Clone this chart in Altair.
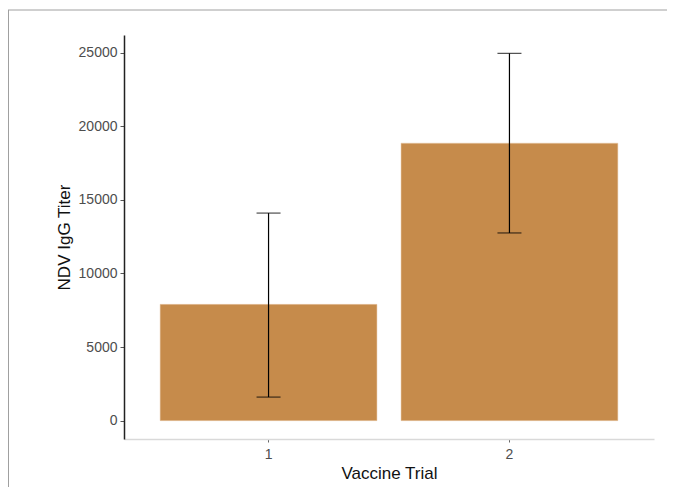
import altair as alt
import pandas as pd

trials = ["1", "2"]
mean_titer = [7900, 18850]
err_low = [1600, 12750]
err_high = [14100, 24950]

df = pd.DataFrame({"trial": trials, "titer": mean_titer, "lo": err_low, "hi": err_high})

font = "Liberation Sans"
xscale = alt.Scale(paddingInner=0.1, paddingOuter=0.15)
yscale = alt.Scale(domain=[-1247.5, 26197.5], nice=False, zero=False)

base = alt.Chart(df)

bars = base.mark_bar(color="#C68B4B", stroke="#E8C9A8", strokeWidth=0.5).encode(
    x=alt.X("trial:N", scale=xscale, sort=trials,
            axis=alt.Axis(title="Vaccine Trial", labelAngle=0, domainColor="#D9D9D9",
                          domainWidth=1.5, tickColor="#666666", tickSize=3,
                          labelPadding=5, titlePadding=4)),
    y=alt.Y("titer:Q", scale=yscale,
            axis=alt.Axis(title="NDV IgG Titer", values=[0, 5000, 10000, 15000, 20000, 25000],
                          format="d", grid=False, domainColor="#222222", domainWidth=1.5,
                          tickColor="#555555", tickSize=4, labelPadding=3, titlePadding=5)),
    y2=alt.datum(0),
)

rules = base.mark_rule(color="black", strokeWidth=1.2).encode(
    x=alt.X("trial:N", scale=xscale, sort=trials),
    y=alt.Y("lo:Q", scale=yscale),
    y2="hi:Q",
)
cap_lo = base.mark_tick(color="black", thickness=1.2, size=24).encode(
    x=alt.X("trial:N", scale=xscale, sort=trials),
    y=alt.Y("lo:Q", scale=yscale),
)
cap_hi = base.mark_tick(color="black", thickness=1.2, size=24).encode(
    x=alt.X("trial:N", scale=xscale, sort=trials),
    y=alt.Y("hi:Q", scale=yscale),
)

frame_df = pd.DataFrame({"k": [0]})
frame_top = alt.Chart(frame_df).mark_rule(color="#A0A0A0", strokeWidth=1).encode(
    x=alt.value(-116), x2=alt.value(545), y=alt.value(-25))
frame_left = alt.Chart(frame_df).mark_rule(color="#A0A0A0", strokeWidth=1).encode(
    x=alt.value(-115.5), y=alt.value(-25), y2=alt.value(470))

chart = alt.layer(bars, rules, cap_lo, cap_hi, frame_top, frame_left).properties(
    width=530, height=404,
    autosize=alt.AutoSizeParams(type="none"),
    padding={"left": 116, "top": 27, "right": 13, "bottom": 48},
    background="white",
).configure_view(stroke=None).configure_axis(
    labelFont=font, titleFont=font, labelFontSize=14, titleFontSize=17,
    labelColor="#4D4D4D", titleColor="#111111", titleFontWeight="normal",
)

chart.save("out.html", embed_options={"renderer": "svg", "actions": False})
